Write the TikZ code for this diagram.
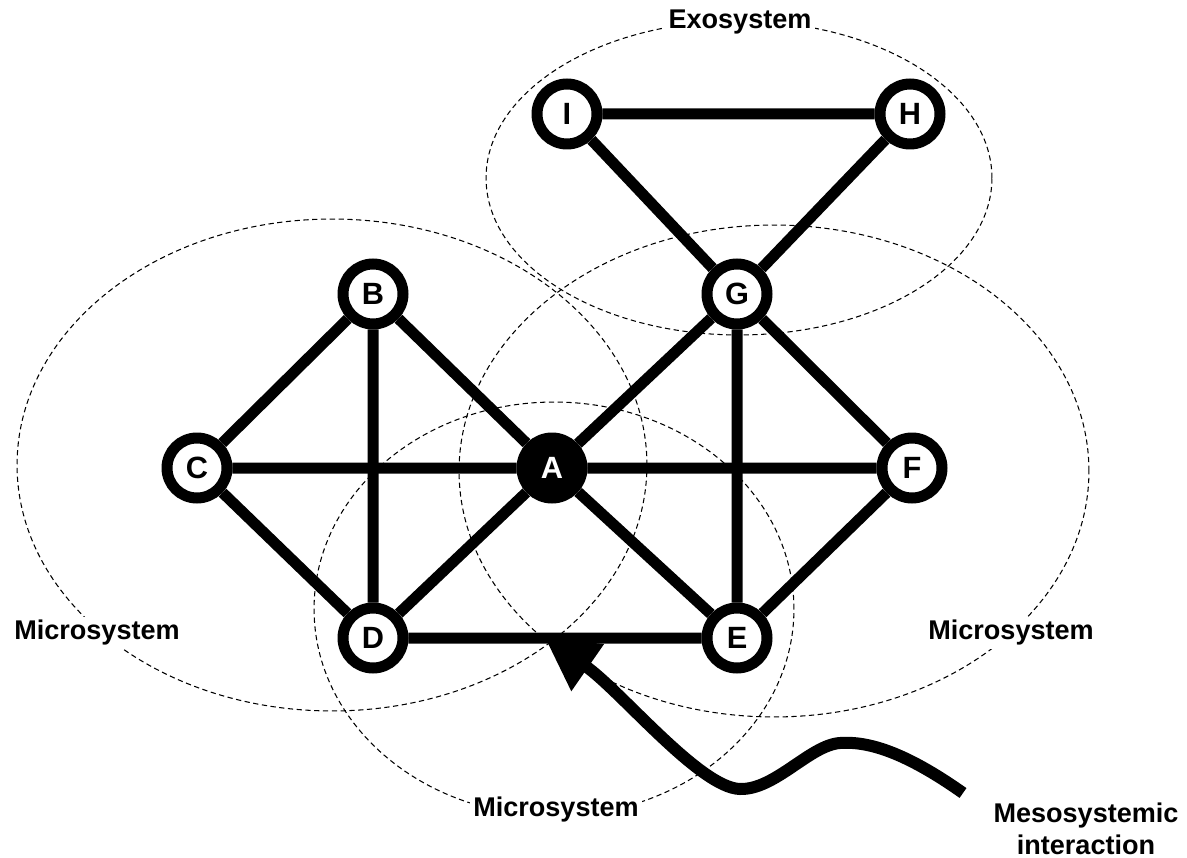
\documentclass[tikz,border=0pt]{standalone}
\usepackage{fontspec}
\setmainfont{Liberation Sans}
\usepackage{tikz}
\usetikzlibrary{arrows.meta}

\tikzset{
  person/.style={circle,draw,line width=0.22cm,fill=white,minimum size=1.2cm,inner sep=0pt,font=\fontsize{17.5}{17.5}\selectfont\bfseries},
  tie/.style={line width=0.22cm},
  sys/.style={dash pattern=on 3pt off 2pt,line width=0.6pt},
  syslabel/.style={fill=white,inner sep=2pt,align=center,font=\fontsize{15.4}{18.2}\selectfont\bfseries}
}

\begin{document}
\begin{tikzpicture}[x=0.02cm,y=-0.02cm]
            \useasboundingbox (0,0) rectangle (1187,858);
            \draw[sys] (739,178) ellipse [x radius=5.06cm, y radius=3.14cm];
            \draw[sys] (332,465) ellipse [x radius=6.3cm, y radius=4.92cm];
            \draw[sys] (774,471) ellipse [x radius=6.3cm, y radius=4.92cm];
            \draw[sys] (554,609) ellipse [x radius=4.8cm, y radius=4.14cm];
            \node[syslabel] (exo) at (740,22) {Exosystem};
            \node[syslabel] (microL) at (97,633) {Microsystem};
            \node[syslabel] (microR) at (1011,633) {Microsystem};
            \node[syslabel] (microB) at (556,810) {Microsystem};
            \node[syslabel] (meso) at (1086,829) {Mesosystemic\\interaction};
            \node[person,fill=black,text=white] (A) at (552,468) {A};
            \node[person] (B) at (373,294) {B};
            \node[person] (C) at (197,468) {C};
            \node[person] (D) at (373,638) {D};
            \node[person] (E) at (737,638) {E};
            \node[person] (F) at (912,468) {F};
            \node[person] (G) at (737,294) {G};
            \node[person] (H) at (910,114) {H};
            \node[person] (I) at (567,114) {I};
            \draw[tie] (A)--(B) (A)--(C) (A)--(D) (A)--(E) (A)--(F) (A)--(G);
            \draw[tie] (B)--(C) (B)--(D) (C)--(D) (D)--(E);
            \draw[tie] (G)--(E) (G)--(F) (E)--(F) (G)--(I) (G)--(H) (I)--(H);
            \coordinate (tail) at (963,793);
            \coordinate (tip) at (545,638);
            \draw[line width=0.24cm,-{Triangle[length=1.04cm,width=1.08cm]}] (tail) .. controls (905,752) and (868,741) .. (840,743) .. controls (810,745) and (775,790) .. (740,789) .. controls (700,788) and (620,690) .. (tip);
        \end{tikzpicture}
\end{document}
